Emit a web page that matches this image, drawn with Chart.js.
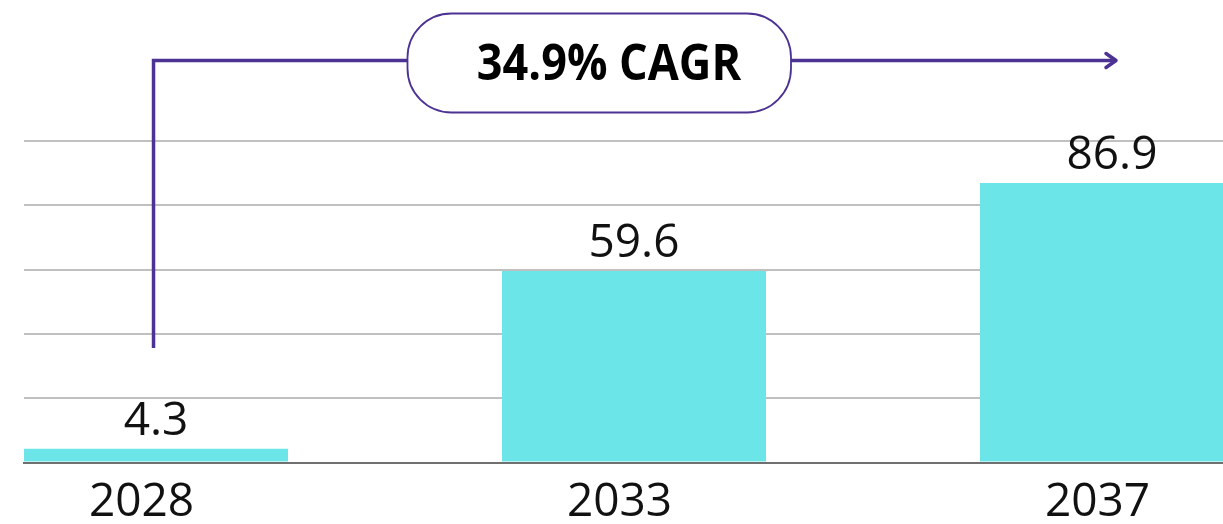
<!DOCTYPE html>
<html>
<head>
<meta charset="utf-8">
<script src="https://cdn.jsdelivr.net/npm/chart.js@4/dist/chart.umd.min.js"></script>
<style>
  html, body { margin: 0; padding: 0; background: #fff; overflow: hidden; }
  #wrap { width: 1223px; height: 524px; position: relative; }
</style>
</head>
<body>
<div id="wrap"><canvas id="chart"></canvas></div>
<script>
const years = ['2028', '2033', '2037'];
const values = [4.3, 59.6, 86.9];
const yTicks = [0, 20, 40, 60, 80, 100];
const cagrLabel = '34.9% CAGR';

const FONT = '"Open Sans", "Noto Sans", sans-serif';
const PURPLE = '#4c3292';

// value labels above each bar
const valueLabels = {
  id: 'valueLabels',
  afterDatasetsDraw(chart) {
    const ctx = chart.ctx;
    ctx.save();
    ctx.font = '46px ' + FONT;
    ctx.fillStyle = '#111';
    ctx.textAlign = 'center';
    ctx.textBaseline = 'alphabetic';
    chart.getDatasetMeta(0).data.forEach((bar, i) => {
      ctx.fillText(values[i].toFixed(1), bar.x, bar.y - 14);
    });
    ctx.restore();
  }
};

// CAGR bracket arrow with pill label
const cagrArrow = {
  id: 'cagrArrow',
  afterDraw(chart) {
    const ctx = chart.ctx;
    const xs = chart.scales.x;
    const x0 = xs.getPixelForValue(0) - 2.5;
    const x1 = xs.getPixelForValue(2) + 4;
    const yl = 60.5, yb = 348;
    const pl = 407.5, pr = 791, pt = 13.5, pb = 112.5, r = 44;

    ctx.save();
    ctx.strokeStyle = PURPLE;
    ctx.lineWidth = 3.5;
    ctx.lineCap = 'butt';
    ctx.beginPath();
    ctx.moveTo(x0, yb);
    ctx.lineTo(x0, yl);
    ctx.lineTo(pl, yl);
    ctx.moveTo(pr, yl);
    ctx.lineTo(x1, yl);
    ctx.stroke();

    ctx.lineCap = 'round';
    ctx.lineJoin = 'round';
    ctx.beginPath();
    ctx.moveTo(x1 - 10, yl - 7);
    ctx.lineTo(x1, yl);
    ctx.lineTo(x1 - 10, yl + 7);
    ctx.stroke();

    ctx.lineWidth = 1.8;
    ctx.fillStyle = '#fff';
    ctx.beginPath();
    ctx.roundRect(pl, pt, pr - pl, pb - pt, r);
    ctx.fill();
    ctx.stroke();

    // slightly condensed bold label, like the original
    ctx.fillStyle = '#000';
    ctx.font = 'bold 50px ' + FONT;
    ctx.textAlign = 'center';
    ctx.textBaseline = 'alphabetic';
    ctx.translate(609, 80);
    ctx.scale(0.9, 1);
    ctx.fillText(cagrLabel, 0, 0);
    ctx.restore();
  }
};

new Chart(document.getElementById('chart'), {
  type: 'bar',
  data: {
    datasets: [{
      data: values.map((v, i) => ({ x: i, y: v })),
      backgroundColor: '#6ce5e8',
      borderWidth: 0,
      categoryPercentage: 1,
      barPercentage: 0.5523
    }]
  },
  options: {
    responsive: true,
    maintainAspectRatio: false,
    animation: false,
    events: [],
    layout: { padding: { left: 24, right: 0, top: 141, bottom: 0 } },
    plugins: { legend: { display: false }, tooltip: { enabled: false } },
    scales: {
      x: {
        type: 'linear',
        offset: false,
        min: -0.2762,
        max: 2.2322,
        afterBuildTicks: s => { s.ticks = years.map((_, i) => ({ value: i })); },
        afterFit: s => { s.height = 61.5; },
        grid: { display: false, drawTicks: false, offset: false },
        border: { display: true, color: '#707070', width: 2 },
        ticks: {
          callback: v => years[v],
          font: { family: FONT, size: 46 },
          color: '#111',
          padding: 13,
          labelOffset: -14.5,
          maxRotation: 0,
          autoSkip: false
        }
      },
      y: {
        min: 0,
        max: 100,
        afterBuildTicks: s => { s.ticks = yTicks.map(v => ({ value: v })); },
        afterFit: s => { s.width = 0; },
        ticks: { display: false },
        border: { display: false },
        grid: {
          drawTicks: false,
          lineWidth: 2,
          color: c => (c.tick && c.tick.value === 0) ? '#707070' : '#c0c0c0'
        }
      }
    }
  },
  plugins: [valueLabels, cagrArrow]
});
</script>
</body>
</html>
